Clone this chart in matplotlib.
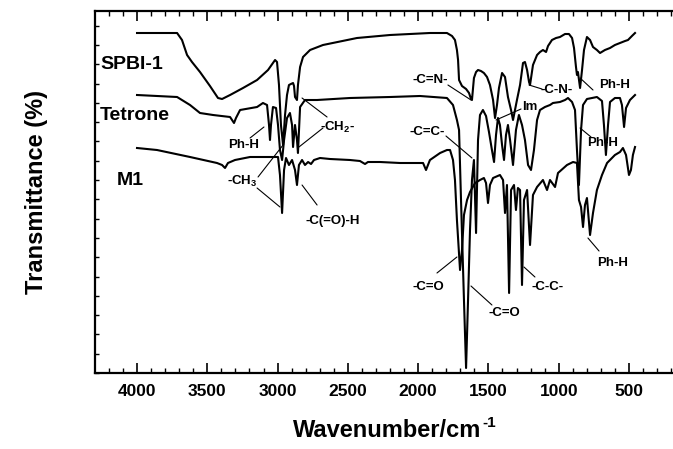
import matplotlib
matplotlib.use('Agg')
import matplotlib.pyplot as plt
from matplotlib.ticker import MultipleLocator, NullFormatter

plt.rcParams['font.family'] = ['Liberation Sans', 'DejaVu Sans']
plt.rcParams['font.weight'] = 'bold'
plt.rcParams['mathtext.fontset'] = 'custom'
plt.rcParams['mathtext.rm'] = 'Liberation Sans:bold'
plt.rcParams['mathtext.it'] = 'Liberation Sans:bold'
plt.rcParams['mathtext.bf'] = 'Liberation Sans:bold'

# FTIR spectra (wavenumber in cm-1, transmittance in arbitrary offset units)
spbi_wn = [4000, 3715, 3680, 3644, 3609, 3552, 3481, 3424, 3395, 3338, 3246, 3146, 3068, 3018,
           3004, 2990, 2976, 2961, 2947, 2933, 2919, 2905, 2890, 2883, 2876, 2862, 2855, 2840,
           2819, 2769, 2677, 2435, 2200, 1916, 1795, 1759, 1738, 1724, 1716, 1709, 1688, 1659,
           1638, 1624, 1617, 1603, 1588, 1574, 1553, 1532, 1510, 1489, 1467, 1453, 1439, 1425,
           1403, 1382, 1361, 1339, 1325, 1311, 1297, 1275, 1254, 1240, 1225, 1211, 1204, 1183,
           1154, 1133, 1112, 1090, 1076, 1048, 1019, 991, 955, 927, 905, 891, 877, 870, 863,
           848, 834, 820, 799, 777, 756, 728, 706, 671, 635, 600, 564, 528, 507, 479, 457]
spbi_t = [340, 340, 333, 318, 311, 301, 287, 275, 274, 278, 285, 293, 303, 313,
          311, 288, 248, 228, 258, 278, 288, 289, 290, 287, 276, 273, 288, 306,
          316, 323, 328, 335, 338, 340, 340, 337, 333, 323, 313, 293, 287, 284,
          280, 274, 273, 295, 301, 303, 302, 300, 296, 288, 273, 255, 268, 285,
          300, 296, 276, 263, 253, 263, 273, 288, 310, 311, 303, 291, 288, 308,
          318, 321, 323, 321, 327, 333, 335, 336, 339, 339, 335, 325, 306, 298, 301,
          285, 303, 323, 336, 333, 326, 323, 320, 323, 325, 328, 330, 332, 333, 337, 340]

tetrone_wn = [4000, 3715, 3623, 3552, 3459, 3338, 3324, 3310, 3296, 3267, 3146, 3104, 3075,
              3061, 3054, 3047, 3033, 3011, 2997, 2983, 2968, 2954, 2933, 2912, 2897, 2890,
              2876, 2862, 2855, 2840, 2805, 2719, 2485, 2200, 1987, 1795, 1752, 1724, 1709,
              1695, 1674, 1659, 1645, 1631, 1617, 1603, 1588, 1574, 1560, 1539, 1517, 1496,
              1475, 1460, 1446, 1432, 1418, 1403, 1389, 1375, 1361, 1346, 1325, 1304, 1283,
              1261, 1240, 1218, 1197, 1176, 1154, 1133, 1098, 1062, 1041, 991, 955, 934, 905,
              884, 870, 856, 841, 827, 799, 763, 728, 692, 678, 664, 649, 635, 600, 564, 550,
              535, 521, 493, 457]
tetrone_t = [278, 276, 268, 260, 258, 256, 253, 250, 255, 263, 266, 270, 268,
             248, 233, 248, 266, 265, 248, 223, 213, 233, 255, 260, 248, 226,
             248, 233, 220, 266, 273, 273, 275, 276, 277, 275, 268, 253, 243,
             173, 73, 5, 73, 143, 193, 213, 140, 233, 258, 263, 257, 241,
             223, 211, 238, 255, 248, 228, 213, 238, 248, 233, 208, 243, 258,
             248, 233, 208, 203, 223, 253, 263, 266, 268, 270, 271, 273, 275, 271,
             263, 223, 188, 243, 268, 274, 275, 276, 272, 248, 218, 248, 271, 275, 275, 268,
             246, 265, 273, 278]

m1_wn = [4000, 3858, 3623, 3431, 3395, 3374, 3353, 3303, 3196, 3054, 2997, 2983, 2968, 2954,
         2940, 2919, 2897, 2876, 2862, 2848, 2826, 2805, 2783, 2762, 2741, 2698, 2627, 2485,
         2414, 2378, 2357, 2271, 2129, 1965, 1944, 1916, 1844, 1795, 1773, 1752, 1738, 1724,
         1702, 1688, 1674, 1652, 1631, 1595, 1560, 1532, 1517, 1503, 1489, 1467, 1418, 1396,
         1382, 1368, 1353, 1339, 1318, 1304, 1290, 1275, 1261, 1247, 1225, 1204, 1183, 1154,
         1112, 1083, 1062, 1026, 1005, 941, 898, 870, 856, 841, 827, 813, 799, 777, 756, 728,
         692, 656, 600, 564, 543, 521, 500, 486, 472, 457]
m1_t = [225, 223, 216, 210, 208, 205, 210, 213, 216, 216, 216, 198, 160, 203,
        215, 208, 213, 203, 188, 208, 213, 208, 211, 209, 213, 215, 214, 213,
        212, 209, 211, 211, 210, 210, 203, 213, 220, 223, 223, 213, 193, 153,
        103, 123, 158, 173, 181, 190, 193, 195, 190, 170, 188, 195, 198, 193,
        160, 188, 80, 183, 188, 163, 185, 183, 88, 173, 183, 128, 178, 186,
        193, 183, 193, 186, 200, 208, 211, 210, 173, 166, 146, 168, 175, 138, 160, 183,
        198, 210, 218, 221, 225, 218, 198, 203, 218, 226]

# sample names: text, wavenumber, level
names = [('SPBI-1', 4263, 304), ('Tetrone', 4263, 253), ('M1', 4142, 188)]

# band assignments: text, text position, leader lines
bands = [
    ('-C=N-', (1916, 293), [((1788, 288), (1624, 273))]),
    ('-C=C-', (1937, 241), [((1802, 237), (1617, 215))]),
    ('Im', (1204, 266), [((1268, 264), (1446, 253))]),
    ('-C-N-', (1012, 283), [((1119, 284), (1211, 288))]),
    ('Ph-H', (600, 288), [((756, 283), (848, 295))]),
    ('Ph-H', (685, 230), [((770, 236), (848, 245))]),
    ('Ph-H', (614, 110), [((713, 122), (792, 135))]),
    ('-C=O', (1930, 86), [((1866, 100), (1724, 116))]),
    ('-C=O', (1389, 60), [((1475, 68), (1624, 87))]),
    ('-C-C-', (1076, 86), [((1169, 96), (1247, 106))]),
    ('Ph-H', (3239, 228), [((3196, 235), (3097, 246))]),
    ('-CH$_{2}$-', (2570, 246), [((2677, 245), (2848, 226)), ((2648, 256), (2826, 275))]),
    ('-CH$_{3}$', (3253, 192), [((3139, 196), (2961, 228)), ((3146, 185), (2983, 166))]),
    ('-C(=O)-H', (2606, 152), [((2719, 168), (2826, 188))]),
]

fig = plt.figure(figsize=(6.73, 4.49), dpi=100)
ax = fig.add_axes([95 / 673, 76 / 449, 585 / 673, 362 / 449])

ax.plot(spbi_wn, spbi_t, 'k', lw=1.5)
ax.plot(tetrone_wn, tetrone_t, 'k', lw=1.5)
ax.plot(m1_wn, m1_t, 'k', lw=1.5)

for txt, x, y in names:
    ax.text(x, y, txt, fontsize=14, fontweight='bold', ha='left', va='baseline')

for txt, pos, lines in bands:
    ax.text(pos[0], pos[1], txt, fontsize=9.5, fontweight='bold', ha='center', va='center')
    for a, b in lines:
        ax.annotate('', xy=b, xytext=a,
                    arrowprops=dict(arrowstyle='-', lw=0.8, color='k', shrinkA=0, shrinkB=0))

ax.set_xlim(4299, 137)
ax.set_ylim(0, 362)
ax.xaxis.set_major_locator(MultipleLocator(500))
ax.xaxis.set_minor_locator(MultipleLocator(100))
ax.yaxis.set_major_locator(MultipleLocator(19.3))
ax.yaxis.set_major_formatter(NullFormatter())
ax.tick_params(axis='x', which='major', direction='in', length=7, width=1.2, top=True,
               labelsize=12.5, pad=8)
ax.tick_params(axis='x', which='minor', direction='in', length=3.5, width=1.0, top=True)
ax.tick_params(axis='y', which='major', direction='in', length=3, width=1.0)
for lab in ax.get_xticklabels():
    lab.set_fontweight('bold')
for s in ax.spines.values():
    s.set_linewidth(1.6)

ax.set_xlabel('Wavenumber/cm', fontsize=17, fontweight='bold', labelpad=14)
ax.set_ylabel('Transmittance (%)', fontsize=17, fontweight='bold', labelpad=30)

# superscript -1 with a plain hyphen, placed after the x label
fig.canvas.draw()
bb = ax.xaxis.label.get_window_extent()
W, H = fig.get_size_inches() * fig.dpi
fig.text((bb.x1 + 1) / W, (bb.y1 - 4) / H, '-1', fontsize=11, fontweight='bold',
         ha='left', va='center')

fig.savefig('out.png', dpi=100)
